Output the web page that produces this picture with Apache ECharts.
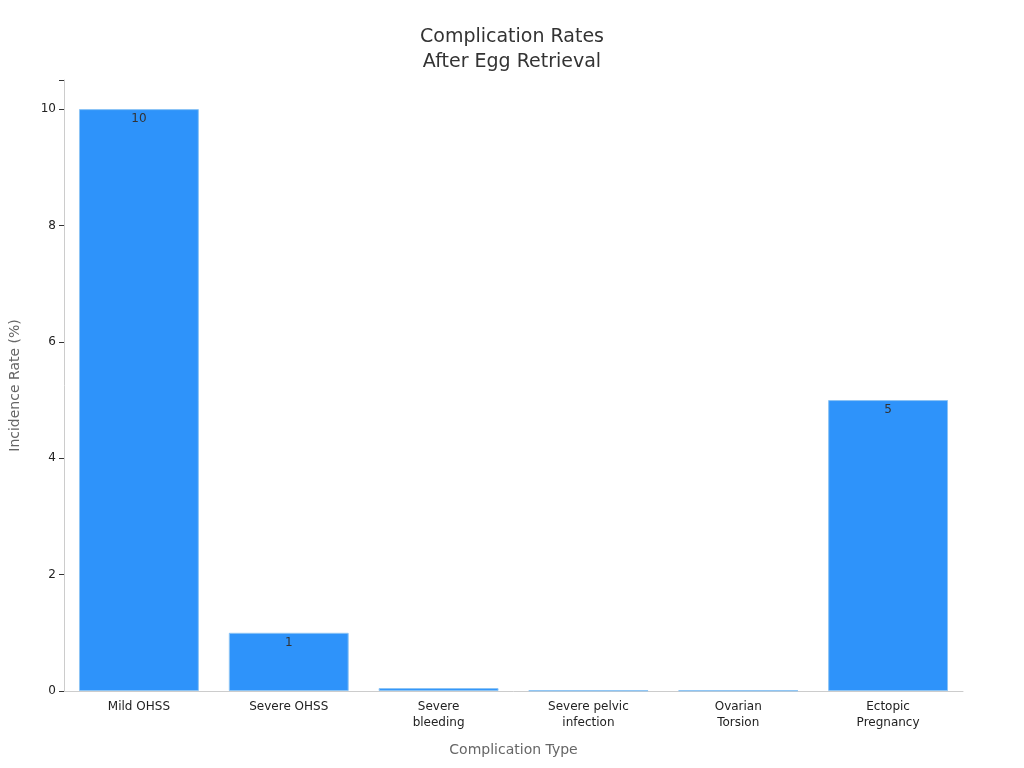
<!DOCTYPE html>
<html><head><meta charset="utf-8">
<script src="https://cdn.jsdelivr.net/npm/echarts@6/dist/echarts.min.js"></script>
<style>html,body{margin:0;background:#fff}#chart{width:1024px;height:768px}</style>
</head><body><div id="chart"></div>
<script>
var categories = ['Mild OHSS', 'Severe OHSS', 'Severe\nbleeding', 'Severe pelvic\ninfection', 'Ovarian\nTorsion', 'Ectopic\nPregnancy'];
var rates = [10, 1, 0.05, 0.01, 0.01, 5];
var yTicks = [0, 2, 4, 6, 8, 10];

var chart = echarts.init(document.getElementById('chart'));
chart.setOption({
    title: {
        text: 'Complication Rates\nAfter Egg Retrieval',
        left: 'center', top: 20,
        textStyle: {fontFamily: 'DejaVu Sans', fontSize: 19, fontWeight: 'normal', color: '#333', lineHeight: 25}
    },
    grid: {left: 61, right: 61, top: 80, bottom: 77},
    xAxis: {
        type: 'category', data: categories,
        name: 'Complication Type', nameLocation: 'middle', nameGap: 52,
        nameTextStyle: {fontFamily: 'DejaVu Sans', fontSize: 14, color: '#666'},
        axisLine: {lineStyle: {color: '#ccc'}},
        axisTick: {alignWithLabel: true, lineStyle: {color: '#333'}},
        axisLabel: {fontFamily: 'DejaVu Sans', fontSize: 12, color: '#222', lineHeight: 16, interval: 0}
    },
    yAxis: {
        type: 'value', min: 0, max: 10.5, interval: 2,
        name: 'Incidence Rate (%)', nameLocation: 'middle', nameGap: 42,
        nameTextStyle: {fontFamily: 'DejaVu Sans', fontSize: 14, color: '#666'},
        splitLine: {show: false},
        axisLine: {show: true, lineStyle: {color: '#ccc'}},
        axisTick: {show: true, lineStyle: {color: '#333'}},
        axisLabel: {fontFamily: 'DejaVu Sans', fontSize: 12, color: '#222',
            formatter: function (v) { return yTicks.indexOf(v) >= 0 ? v : ''; }}
    },
    series: [{
        type: 'bar', data: rates, barWidth: '80%',
        itemStyle: {color: '#2e93fa', borderColor: '#8cc4f5', borderWidth: 1},
        label: {show: true, position: 'insideTop', distance: 4, color: '#333',
            fontFamily: 'DejaVu Sans', fontSize: 12,
            formatter: function (p) { return p.value >= 1 ? p.value : ''; }}
    }]
});
</script></body></html>
